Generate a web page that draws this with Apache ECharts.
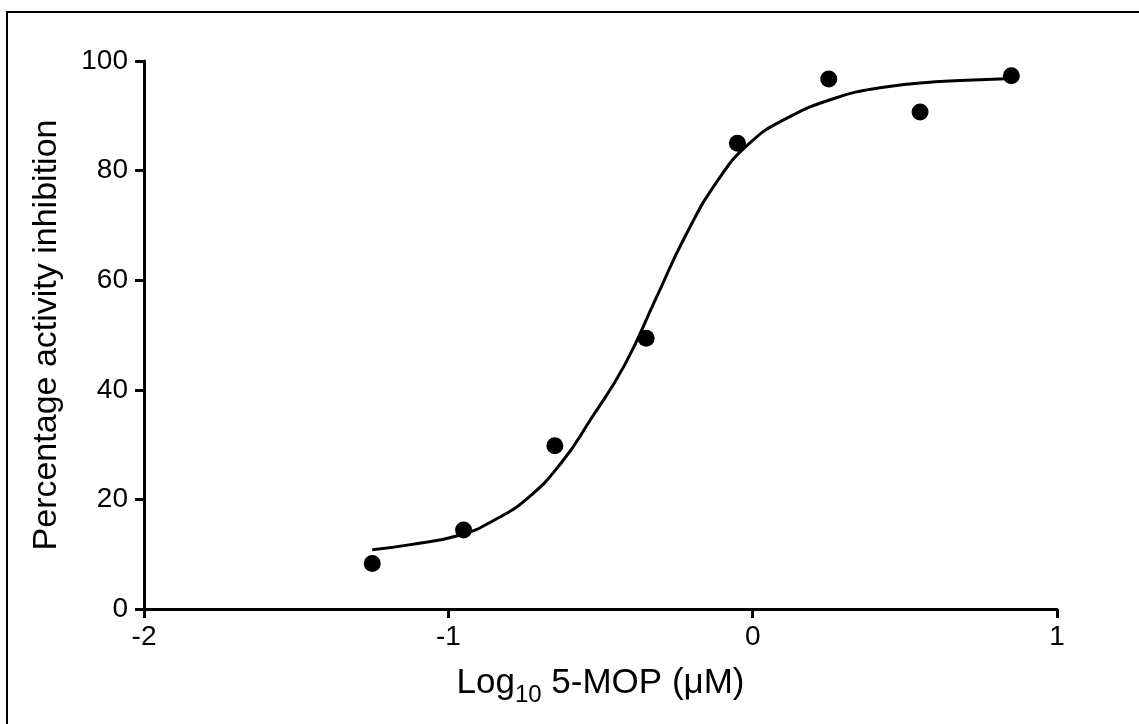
<!DOCTYPE html>
<html>
<head>
<meta charset="utf-8">
<script src="https://cdn.jsdelivr.net/npm/echarts@6/dist/echarts.min.js"></script>
<style>
  html, body { margin: 0; padding: 0; background: #fff; }
  #chart { width: 1139px; height: 724px; }
</style>
</head>
<body>
<div id="chart"></div>
<script>
// Measured data points (log10 concentration, % inhibition)
var doseX = [-1.25, -0.95, -0.65, -0.35, -0.05, 0.25, 0.55, 0.85];
var inhibitionY = [8.3, 14.4, 29.8, 49.4, 85.0, 96.7, 90.7, 97.3];

// Fitted curve
var curveX = [-1.25, -1.13, -0.96, -0.85, -0.74, -0.63, -0.53, -0.42, -0.32, -0.22, -0.11, -0.01, 0.10, 0.27, 0.43, 0.60, 0.81, 0.85];
var curveY = [10.8, 11.7, 13.5, 16.2, 20.2, 26.6, 34.8, 44.6, 56.4, 68.2, 78.6, 85.0, 89.2, 93.2, 95.2, 96.2, 96.7, 96.8];

var xTicks = { min: -2, max: 1, interval: 1 };
var yTicks = { min: 0, max: 100, interval: 20 };

var FONT = "'Liberation Sans', Arial, sans-serif";

var points = doseX.map(function (x, i) { return [x, inhibitionY[i]]; });
var curve = curveX.map(function (x, i) { return [x, curveY[i]]; });

var chart = echarts.init(document.getElementById('chart'), null, { renderer: 'canvas' });

var axisCommon = {
  axisLine: { show: true, onZero: false, lineStyle: { color: '#000', width: 3 } },
  axisTick: { show: true, length: 9, lineStyle: { color: '#000', width: 3 } },
  splitLine: { show: false },
  axisLabel: { color: '#000', fontSize: 28, fontFamily: FONT }
};

chart.setOption({
  backgroundColor: '#fff',
  animation: false,
  grid: { left: 144, right: 82, top: 61, bottom: 115, containLabel: false, outerBoundsMode: 'none' },
  xAxis: Object.assign({}, axisCommon, {
    type: 'value',
    min: xTicks.min, max: xTicks.max, interval: xTicks.interval,
    axisLabel: Object.assign({}, axisCommon.axisLabel, { margin: 14 }),
    name: '{m|Log}{s|10}{m| 5-MOP (\u03bcM)}',
    nameLocation: 'middle',
    nameGap: 57,
    nameTextStyle: {
      color: '#000', fontFamily: FONT,
      rich: {
        m: { fontSize: 35, fontFamily: FONT, color: '#000', verticalAlign: 'bottom', padding: [0, 0, 6, 0] },
        s: { fontSize: 24, fontFamily: FONT, color: '#000', verticalAlign: 'bottom' }
      }
    }
  }),
  yAxis: Object.assign({}, axisCommon, {
    type: 'value',
    min: yTicks.min, max: yTicks.max, interval: yTicks.interval,
    axisLabel: Object.assign({}, axisCommon.axisLabel, { margin: 16 }),
    name: 'Percentage activity inhibition',
    nameLocation: 'middle',
    nameGap: 80,
    nameTextStyle: { color: '#000', fontSize: 34, fontFamily: FONT }
  }),
  graphic: [{
    type: 'rect',
    silent: true,
    shape: { x: 7, y: 12, width: 1300, height: 900 },
    style: { fill: 'none', stroke: '#000', lineWidth: 2 }
  }],
  series: [
    {
      type: 'line',
      data: curve,
      smooth: true,
      showSymbol: false,
      symbol: 'none',
      lineStyle: { color: '#000', width: 3 },
      z: 2
    },
    {
      type: 'scatter',
      data: points,
      symbol: 'circle',
      symbolSize: 17,
      itemStyle: { color: '#000', opacity: 1 },
      z: 3
    }
  ]
});
</script>
</body>
</html>
